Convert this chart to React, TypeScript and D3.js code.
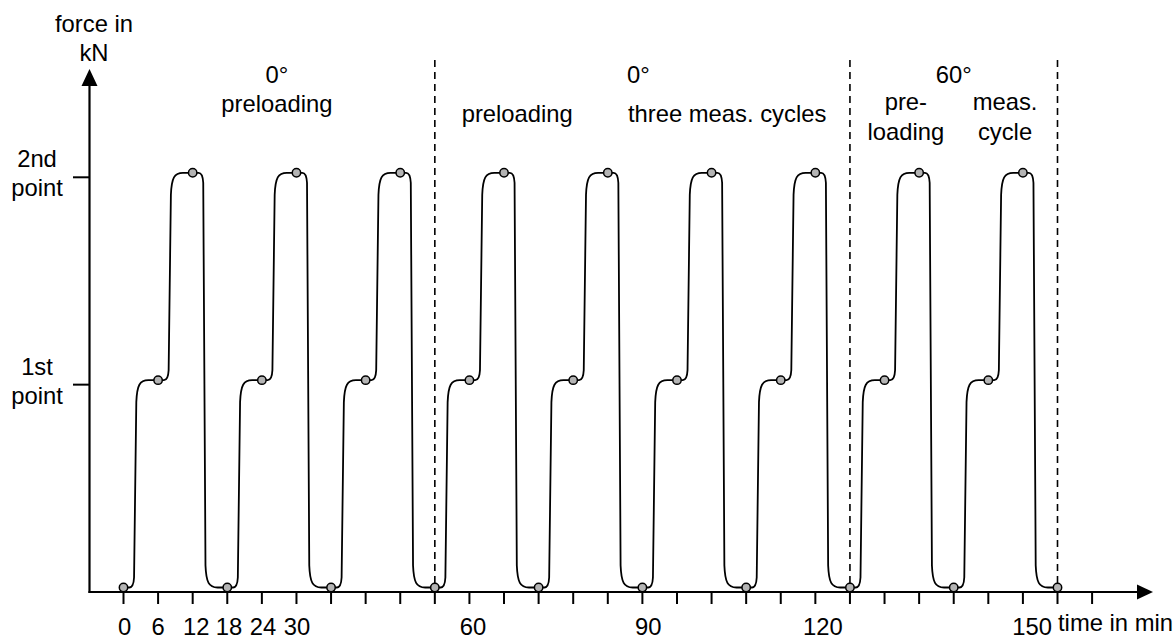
import React, { useEffect } from "react";
import * as d3 from "d3";

// ---- data ----
const times = [0, 6, 12, 18, 24, 30, 36, 42, 48, 54, 60, 66, 72, 78, 84, 90, 96, 102, 108, 114, 120, 126, 132, 138, 144, 150, 156, 162];
const levels = [0, 1, 2, 0, 1, 2, 0, 1, 2, 0, 1, 2, 0, 1, 2, 0, 1, 2, 0, 1, 2, 0, 1, 2, 0, 1, 2, 0];
const tickTimes = [0, 6, 12, 18, 24, 30, 36, 42, 48, 54, 60, 66, 72, 78, 84, 90, 96, 102, 108, 114, 120, 126, 132, 138, 144, 150, 156, 162, 168];
const tickLabels = ["0", "6", "12", "18", "24", "30", "60", "90", "120", "150"];
const tickLabelTimes = [0.2, 6, 12.6, 18.3, 24.2, 30.1, 60.6, 91, 121.3, 157.6];
const yTickLevels = [1, 2];
const yTickLabels = [["1st", "point"], ["2nd", "point"]];
const sectionLines = [54, 126, 162];
const annotations = [
  { t: 26.6, row: 0, text: "0°" },
  { t: 26.6, row: 1, text: "preloading" },
  { t: 68.3, row: 2, text: "preloading" },
  { t: 89.3, row: 0, text: "0°" },
  { t: 104.7, row: 2, text: "three meas. cycles" },
  { t: 144, row: 0, text: "60°" },
  { t: 135.7, row: 3, text: "pre-" },
  { t: 135.7, row: 4, text: "loading" },
  { t: 152.9, row: 3, text: "meas." },
  { t: 152.9, row: 4, text: "cycle" },
];

const W = 1174;
const H = 640;
const FONT = "'Liberation Sans', Arial, Helvetica, sans-serif";
const FS = 23.8;

export default function App() {
  useEffect(() => {
    document.body.style.margin = "0";
  }, []);

  const x = d3.scaleLinear().domain([0, 162]).range([123.5, 1057.5]);
  const y = d3.scaleLinear().domain([0, 2]).range([592, 177.3]);
  const axisX = 89.5;
  const axisY = y(0);
  const curveOff = -4.5;
  const rowY = [83, 112, 122, 110, 140];

  const pts = times.map((t, i) => [x(t), y(levels[i]) + curveOff] as [number, number]);
  let d = `M${pts[0][0]},${pts[0][1]}`;
  for (let i = 1; i < pts.length; i++) {
    const [x0, y0] = pts[i - 1];
    const [x1, y1] = pts[i];
    const w = x1 - x0;
    const s = Math.sign(y1 - y0);
    d += ` L${x0 + 0.17 * w},${y0} Q${x0 + 0.29 * w},${y0} ${x0 + 0.305 * w},${y0 + s * 10}`;
    d += ` L${x0 + 0.37 * w},${y1 - s * 22}`;
    d += ` C${x0 + 0.39 * w},${y1 - s * 5} ${x0 + 0.47 * w},${y1} ${x0 + 0.72 * w},${y1} L${x1},${y1}`;
  }

  const yTop = 85;
  const xEnd = 1138;

  return (
    <svg width={W} height={H} style={{ position: "absolute", left: 0, top: 0, display: "block", background: "#fff" }} fontFamily={FONT} fontSize={FS}>
      <rect x={0} y={0} width={W} height={H} fill="#fff" />
      {/* section dashed lines */}
      {sectionLines.map((t, i) => (
        <line key={"s" + i} x1={x(t)} x2={x(t)} y1={60} y2={axisY - 4} stroke="#000" strokeWidth={1.6} strokeDasharray="7,5" />
      ))}
      {/* axes */}
      <line x1={axisX} x2={axisX} y1={axisY + 1} y2={yTop} stroke="#000" strokeWidth={2.2} />
      <path d={`M${axisX},69 L${axisX - 8},${yTop + 1} L${axisX + 8},${yTop + 1} Z`} fill="#000" />
      <line x1={axisX - 1} x2={xEnd} y1={axisY} y2={axisY} stroke="#000" strokeWidth={2.2} />
      <path d={`M1153,${axisY} L${xEnd - 1},${axisY - 7.5} L${xEnd - 1},${axisY + 7.5} Z`} fill="#000" />
      {/* x ticks */}
      {tickTimes.map((t, i) => (
        <line key={"xt" + i} x1={x(t)} x2={x(t)} y1={axisY} y2={axisY + 12} stroke="#000" strokeWidth={2} />
      ))}
      {tickLabels.map((l, i) => (
        <text key={"xl" + i} x={x(tickLabelTimes[i])} y={635} textAnchor="middle">{l}</text>
      ))}
      <text x={1058} y={631}>time in min</text>
      {/* y ticks */}
      {yTickLevels.map((v, i) => (
        <g key={"yt" + i}>
          <line x1={73} x2={axisX} y1={y(v)} y2={y(v)} stroke="#000" strokeWidth={2} />
          <text x={37} y={y(v) - 10} textAnchor="middle">{yTickLabels[i][0]}</text>
          <text x={37} y={y(v) + 19} textAnchor="middle">{yTickLabels[i][1]}</text>
        </g>
      ))}
      <text x={94} y={32} textAnchor="middle">force in</text>
      <text x={94} y={61} textAnchor="middle">kN</text>
      {/* annotations */}
      {annotations.map((a, i) => (
        <text key={"a" + i} x={x(a.t)} y={rowY[a.row]} textAnchor="middle">{a.text}</text>
      ))}
      {/* curve */}
      <path d={d} fill="none" stroke="#000" strokeWidth={1.8} />
      {pts.map((p, i) => (
        <circle key={"c" + i} cx={p[0]} cy={p[1]} r={4.2} fill="#b4b4b4" stroke="#000" strokeWidth={1.5} />
      ))}
    </svg>
  );
}
